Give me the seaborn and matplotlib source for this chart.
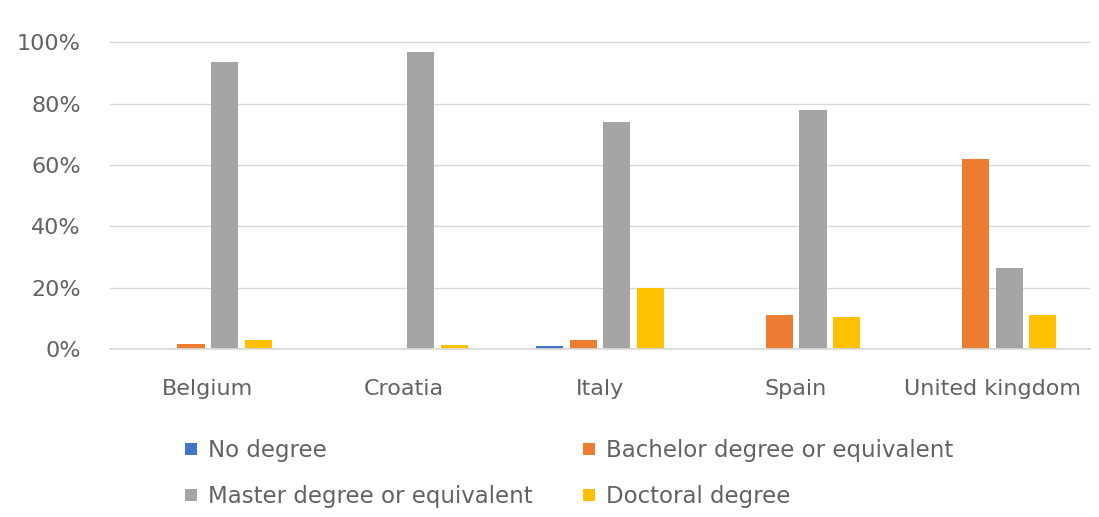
import matplotlib
matplotlib.use("Agg")
import matplotlib.pyplot as plt
import seaborn as sns
import pandas as pd
from matplotlib.ticker import FuncFormatter

countries = ["Belgium", "Croatia", "Italy", "Spain", "United kingdom"]
degrees = ["No degree", "Bachelor degree or equivalent",
           "Master degree or equivalent", "Doctoral degree"]
no_degree = [0, 0, 1.0, 0, 0]
bachelor = [1.7, 0, 2.8, 11, 62]
master = [93.5, 97, 74, 78, 26.5]
doctoral = [3, 1.2, 20, 10.3, 11]
colors = ["#4472C4", "#ED7D31", "#A5A5A5", "#FFC000"]

rows = []
for deg, vals in zip(degrees, [no_degree, bachelor, master, doctoral]):
    for c, v in zip(countries, vals):
        rows.append({"country": c, "degree": deg, "share": v})
df = pd.DataFrame(rows)

sns.set_theme(style="white")
plt.rcParams["font.family"] = ["DejaVu Sans"]

fig = plt.figure(figsize=(10.99, 5.17), dpi=100)
ax = fig.add_axes([0.100, 0.325, 0.892, 0.596])

sns.barplot(data=df, x="country", y="share", hue="degree", hue_order=degrees,
            order=countries, palette=colors, width=0.69, gap=0.2,
            saturation=1, linewidth=0, ax=ax, legend=True)

ax.set_ylim(0, 100.5)
ax.set_yticks(range(0, 101, 20))
ax.yaxis.set_major_formatter(FuncFormatter(lambda v, p: f"{int(v)}%"))
ax.grid(axis="y", color="#D9D9D9", linewidth=1.0)
ax.set_axisbelow(True)
for s in ["top", "right", "left"]:
    ax.spines[s].set_visible(False)
ax.spines["bottom"].set_color("#D9D9D9")
ax.set_xlabel("")
ax.set_ylabel("")
ax.tick_params(axis="both", length=0, labelsize=16, labelcolor="#626262")
ax.tick_params(axis="y", pad=21)
ax.tick_params(axis="x", pad=21.5)

handles, labels = ax.get_legend_handles_labels()
ax.get_legend().remove()
order = [0, 2, 1, 3]
fig.legend([handles[i] for i in order], [labels[i] for i in order],
           ncol=2, loc="upper left", bbox_to_anchor=(0.150, 0.191),
           frameon=False, fontsize=16.5, labelcolor="#626262",
           handlelength=0.5, handleheight=0.45, handletextpad=0.5,
           columnspacing=2.2, labelspacing=1.02)

fig.savefig("out.png", dpi=100, facecolor="white")
